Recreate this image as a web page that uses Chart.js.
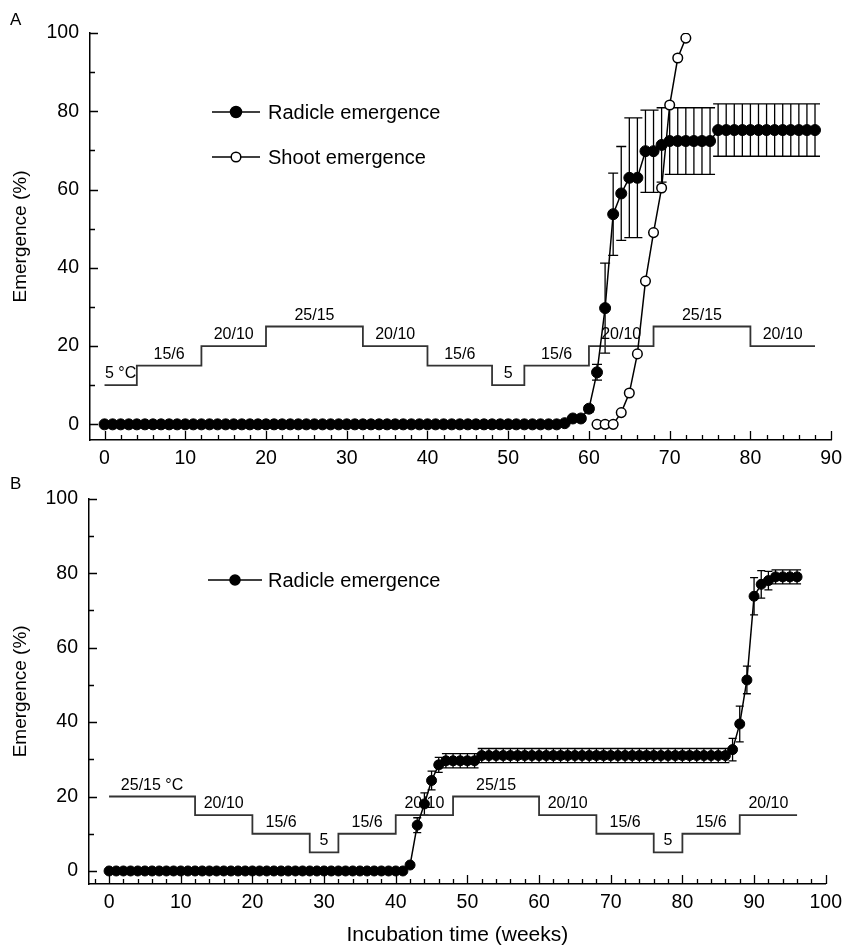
<!DOCTYPE html>
<html>
<head>
<meta charset="utf-8">
<script src="https://cdn.jsdelivr.net/npm/chart.js@4.4.0/dist/chart.umd.min.js"></script>
<style>
  html, body { margin: 0; padding: 0; background: #fff; }
  #wrap { position: relative; width: 849px; height: 952px; }
  .panel { position: absolute; left: 0; width: 849px; height: 476px; }
</style>
</head>
<body>
<div id="wrap">
  <div class="panel" style="top:0"><canvas id="chartA" width="849" height="476"></canvas></div>
  <div class="panel" style="top:476px"><canvas id="chartB" width="849" height="476"></canvas></div>
</div>
<script>
// ---- Panel A data (weekly readings) ----
const weeksA = [0,1,2,3,4,5,6,7,8,9,10,11,12,13,14,15,16,17,18,19,20,21,22,23,24,25,26,27,28,29,
  30,31,32,33,34,35,36,37,38,39,40,41,42,43,44,45,46,47,48,49,50,51,52,53,54,55,56,57,58,59,
  60,61,62,63,64,65,66,67,68,69,70,71,72,73,74,75,76,77,78,79,80,81,82,83,84,85,86,87,88];
const radicleA = [0,0,0,0,0,0,0,0,0,0,0,0,0,0,0,0,0,0,0,0,0,0,0,0,0,0,0,0,0,0,
  0,0,0,0,0,0,0,0,0,0,0,0,0,0,0,0,0,0,0,0,0,0,0,0,0,0,0,0.3,1.5,1.5,
  4,13.3,29.7,53.7,59,63,63,69.8,69.8,71.4,72.4,72.4,72.4,72.4,72.4,72.4,
  75.2,75.2,75.2,75.2,75.2,75.2,75.2,75.2,75.2,75.2,75.2,75.2,75.2];
const radicleErrA = [0,0,0,0,0,0,0,0,0,0,0,0,0,0,0,0,0,0,0,0,0,0,0,0,0,0,0,0,0,0,
  0,0,0,0,0,0,0,0,0,0,0,0,0,0,0,0,0,0,0,0,0,0,0,0,0,0,0,0.3,0.5,0.5,
  0.8,2,11.5,10.5,12,15.3,15.3,10.5,10.5,9.5,8.5,8.5,8.5,8.5,8.5,8.5,
  6.7,6.7,6.7,6.7,6.7,6.7,6.7,6.7,6.7,6.7,6.7,6.7,6.7];
const shootWeeksA = [61,62,63,64,65,66,67,68,69,70,71,72];
const shootA = [0,0,0,3,8,18,36.6,49,60.4,81.6,93.6,98.7];
const tempStepsA = [0,4,12,20,32,40,48,52,60,68,80,88];
const tempLevelsA = [10,15,20,25,20,15,10,15,20,25,20,20];
const tempLabelsA = ['5 \u00b0C','15/6','20/10','25/15','20/10','15/6','5','15/6','20/10','25/15','20/10'];
const xTicksA = [0,10,20,30,40,50,60,70,80,90];

// ---- Panel B data ----
const weeksB = [0,1,2,3,4,5,6,7,8,9,10,11,12,13,14,15,16,17,18,19,20,21,22,23,24,25,26,27,28,29,
  30,31,32,33,34,35,36,37,38,39,40,41,42,43,44,45,46,47,48,49,50,51,52,53,54,55,56,57,58,59,
  60,61,62,63,64,65,66,67,68,69,70,71,72,73,74,75,76,77,78,79,80,81,82,83,84,85,86,87,88,89,
  90,91,92,93,94,95,96];
const radicleB = [0,0,0,0,0,0,0,0,0,0,0,0,0,0,0,0,0,0,0,0,0,0,0,0,0,0,0,0,0,0,
  0,0,0,0,0,0,0,0,0,0,0,0,1.6,12.3,18,24.3,28.5,29.6,29.6,29.6,29.6,29.6,31,31,31,31,31,31,31,31,
  31,31,31,31,31,31,31,31,31,31,31,31,31,31,31,31,31,31,31,31,31,31,31,31,31,31,31,32.6,39.5,51.3,
  73.8,77,78,79,79,79,79];
const radicleErrB = [0,0,0,0,0,0,0,0,0,0,0,0,0,0,0,0,0,0,0,0,0,0,0,0,0,0,0,0,0,0,
  0,0,0,0,0,0,0,0,0,0,0,0,0.5,2,3,2.5,2,1.9,1.9,1.9,1.9,1.9,1.9,1.9,1.9,1.9,1.9,1.9,1.9,1.9,
  1.9,1.9,1.9,1.9,1.9,1.9,1.9,1.9,1.9,1.9,1.9,1.9,1.9,1.9,1.9,1.9,1.9,1.9,1.9,1.9,1.9,1.9,1.9,1.9,1.9,1.9,1.9,3,4.8,3.7,
  5,3.7,2.5,1.9,1.9,1.9,1.9];
const tempStepsB = [0,12,20,28,32,40,48,60,68,76,80,88,96];
const tempLevelsB = [20,15,10,5,10,15,20,15,10,5,10,15,15];
const tempLabelsB = ['25/15 \u00b0C','20/10','15/6','5','15/6','20/10','25/15','20/10','15/6','5','15/6','20/10'];
const xTicksB = [0,10,20,30,40,50,60,70,80,90,100];

const yTicks = [0,20,40,60,80,100];

const FONT = 'Liberation Sans, Arial, Helvetica, sans-serif';

function pts(xs, ys) {
  return xs.map((w, i) => ({ x: w, y: ys[i] }));
}

// error bars, inward ticks, step labels, legend, panel letter
const panelDecor = {
  id: 'panelDecor',
  beforeDatasetsDraw(chart, args, o) {
    const ctx = chart.ctx;
    const x = chart.scales.x, y = chart.scales.y;
    const area = chart.chartArea;
    ctx.save();
    ctx.strokeStyle = '#000';
    ctx.lineWidth = 1.3;
    // inward tick marks
    ctx.beginPath();
    for (let v = Math.ceil(x.min / 2) * 2; v <= x.max + 0.01; v += 2) {
      const px = Math.round(x.getPixelForValue(v)) + 0.5;
      const len = v % 10 === 0 ? 9 : 5;
      ctx.moveTo(px, area.bottom);
      ctx.lineTo(px, area.bottom - len);
    }
    for (let v = 0; v <= 100; v += 10) {
      const py = Math.round(y.getPixelForValue(v)) + 0.5;
      const len = v % 20 === 0 ? 8 : 5;
      ctx.moveTo(area.left, py);
      ctx.lineTo(area.left + len, py);
    }
    ctx.stroke();

    // temperature labels
    ctx.fillStyle = '#000';
    ctx.font = '16px ' + FONT;
    ctx.textAlign = 'center';
    ctx.textBaseline = 'alphabetic';
    o.tempLabels.forEach((t, i) => {
      const mid = (o.tempSteps[i] + o.tempSteps[i + 1]) / 2;
      ctx.fillText(t, x.getPixelForValue(mid), y.getPixelForValue(o.tempLevels[i]) - 7);
    });

    // error bars
    ctx.lineWidth = 1.3;
    ctx.beginPath();
    o.errWeeks.forEach((w, i) => {
      const e = o.errValues[i];
      if (!e) return;
      const px = x.getPixelForValue(w);
      const top = y.getPixelForValue(o.errMeans[i] + e);
      const bot = y.getPixelForValue(o.errMeans[i] - e);
      ctx.moveTo(px, top); ctx.lineTo(px, bot);
      ctx.moveTo(px - o.cap, top); ctx.lineTo(px + o.cap, top);
      ctx.moveTo(px - o.cap, bot); ctx.lineTo(px + o.cap, bot);
    });
    ctx.stroke();
    ctx.restore();
  },
  afterDraw(chart, args, o) {
    const ctx = chart.ctx;
    ctx.save();
    ctx.fillStyle = '#000';
    ctx.textBaseline = 'middle';
    ctx.textAlign = 'left';
    ctx.font = '17px ' + FONT;
    ctx.fillText(o.letter, o.letterPos[0], o.letterPos[1]);
    // legend
    ctx.font = '20px ' + FONT;
    o.legend.forEach(item => {
      const ds = chart.data.datasets[item.dataset];
      ctx.strokeStyle = '#000';
      ctx.lineWidth = 1.5;
      ctx.beginPath();
      ctx.moveTo(o.legendX[0], item.y);
      ctx.lineTo(o.legendX[1], item.y);
      ctx.stroke();
      ctx.beginPath();
      ctx.arc((o.legendX[0] + o.legendX[1]) / 2, item.y, ds.pointRadius, 0, Math.PI * 2);
      ctx.fillStyle = ds.pointBackgroundColor;
      ctx.fill();
      ctx.stroke();
      ctx.fillStyle = '#000';
      ctx.fillText(ds.label, o.legendX[2], item.y + 1);
    });
    ctx.restore();
  }
};

function makeChart(id, c) {
  return new Chart(document.getElementById(id), {
    type: 'line',
    data: { datasets: c.datasets },
    options: {
      responsive: false,
      animation: false,
      layout: { padding: c.padding },
      plugins: {
        legend: { display: false },
        tooltip: { enabled: false },
        panelDecor: c.decor
      },
      scales: {
        x: {
          type: 'linear', min: c.xMin, max: c.xMax,
          grid: { display: false, drawTicks: false },
          border: { display: true, color: '#000', width: 1.5 },
          ticks: { color: '#000', font: { family: FONT, size: 19.5 }, padding: 7, maxRotation: 0, autoSkip: false },
          afterBuildTicks: s => { s.ticks = c.xTicks.map(v => ({ value: v })); },
          afterFit: s => { s.height = c.xHeight; },
          title: c.xTitle
        },
        y: {
          type: 'linear', min: c.yMin, max: 100,
          grid: { display: false, drawTicks: false },
          border: { display: true, color: '#000', width: 1.5 },
          ticks: { color: '#000', font: { family: FONT, size: 19.5 }, padding: 11, autoSkip: false },
          afterBuildTicks: s => { s.ticks = yTicks.map(v => ({ value: v })); },
          afterFit: s => { s.width = c.yWidth; },
          title: { display: true, text: 'Emergence (%)', color: '#000', font: { family: FONT, size: 19 }, padding: { top: 9 } }
        }
      }
    },
    plugins: [panelDecor]
  });
}

function tempDataset(steps, levels) {
  return {
    label: 'temperature', data: pts(steps, levels), stepped: 'before',
    borderColor: '#333', borderWidth: 1.8, pointRadius: 0, fill: false, order: 3
  };
}

makeChart('chartA', {
  padding: { left: 0, right: 17, top: 33, bottom: 0 },
  xMin: -1.8, xMax: 90, yMin: -4, xTicks: xTicksA, xHeight: 36, yWidth: 90,
  xTitle: { display: false },
  datasets: [
    {
      label: 'Radicle emergence', data: pts(weeksA, radicleA),
      borderColor: '#000', borderWidth: 1.5, pointRadius: 5.5, pointBorderWidth: 1,
      pointBackgroundColor: '#000', pointBorderColor: '#000', order: 2
    },
    {
      label: 'Shoot emergence', data: pts(shootWeeksA, shootA),
      borderColor: '#000', borderWidth: 1.5, pointRadius: 4.8, pointBorderWidth: 1.5,
      pointBackgroundColor: '#fff', pointBorderColor: '#000', order: 1
    },
    tempDataset(tempStepsA, tempLevelsA)
  ],
  decor: {
    letter: 'A', letterPos: [10, 20],
    tempSteps: tempStepsA, tempLevels: tempLevelsA, tempLabels: tempLabelsA,
    errWeeks: weeksA, errMeans: radicleA, errValues: radicleErrA, cap: 5,
    legendX: [212, 260, 268],
    legend: [{ dataset: 0, y: 112 }, { dataset: 1, y: 157 }]
  }
});

makeChart('chartB', {
  padding: { left: 0, right: 21, top: 21, bottom: 0 },
  xMin: -2.8, xMax: 100, yMin: -3.5, xTicks: xTicksB, xHeight: 68, yWidth: 89,
  xTitle: { display: true, text: 'Incubation time (weeks)', color: '#000', font: { family: FONT, size: 21 }, padding: { bottom: 4 } },
  datasets: [
    {
      label: 'Radicle emergence', data: pts(weeksB, radicleB),
      borderColor: '#000', borderWidth: 1.5, pointRadius: 5, pointBorderWidth: 1,
      pointBackgroundColor: '#000', pointBorderColor: '#000', order: 1
    },
    tempDataset(tempStepsB, tempLevelsB)
  ],
  decor: {
    letter: 'B', letterPos: [10, 8],
    tempSteps: tempStepsB, tempLevels: tempLevelsB, tempLabels: tempLabelsB,
    errWeeks: weeksB, errMeans: radicleB, errValues: radicleErrB, cap: 4,
    legendX: [208, 262, 268],
    legend: [{ dataset: 0, y: 104 }]
  }
});
</script>
</body>
</html>
